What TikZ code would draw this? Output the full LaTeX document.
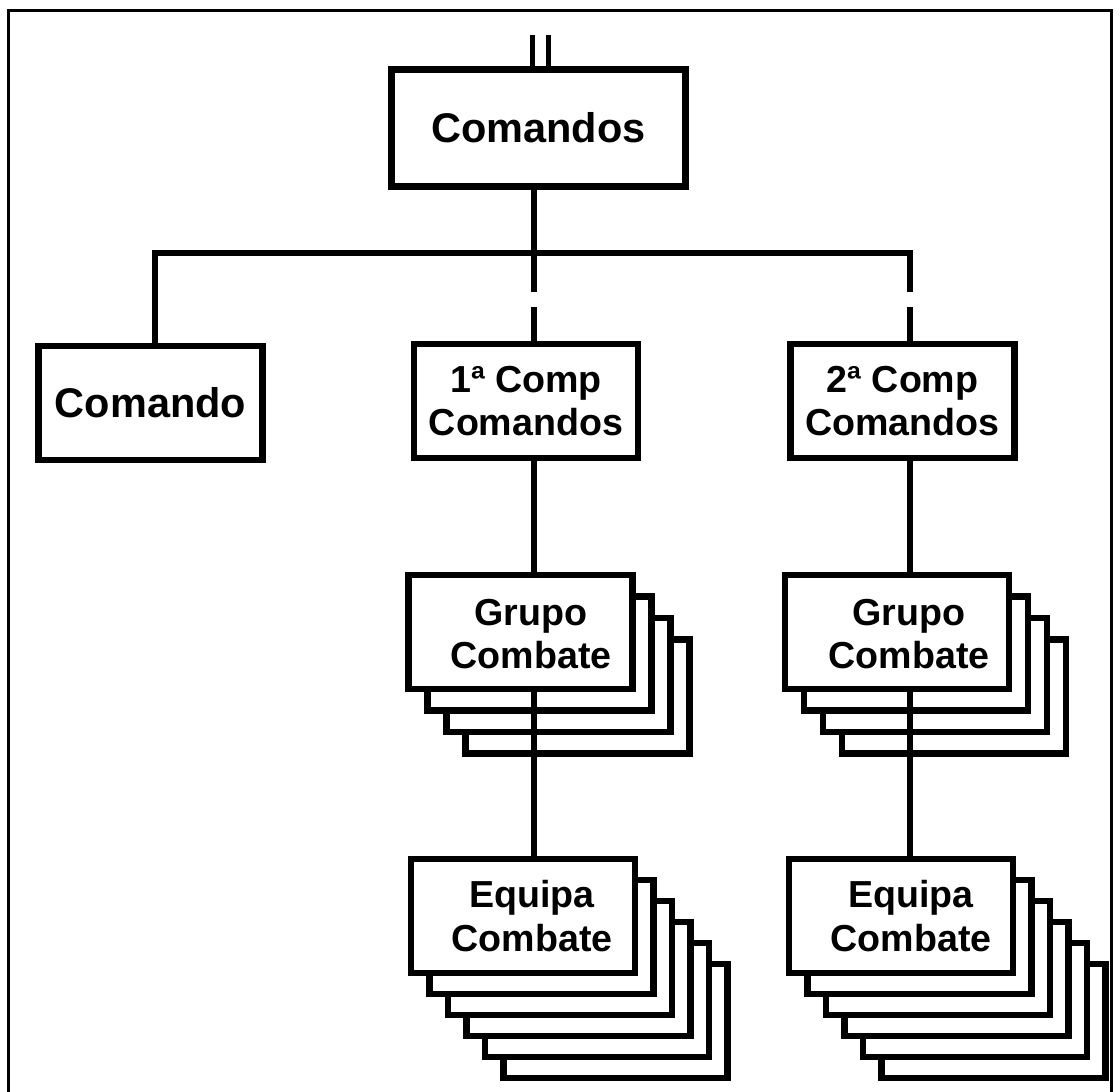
\documentclass[tikz,border=0pt]{standalone}
\usepackage{fontspec}
\setmainfont{Liberation Sans}
\begin{document}
\begin{tikzpicture}[x=0.1mm, y=-0.1mm, line width=0.65mm,
      box/.style={draw, fill=white, inner sep=0pt, minimum width=22.4mm, minimum height=11.4mm,
        align=center, font=\bfseries\fontsize{10.7}{12.3}\selectfont},
      txt/.style={inner sep=0pt, align=center, font=\bfseries\fontsize{10.7}{12.3}\selectfont},
      big/.style={font=\bfseries\fontsize{11.8}{13}\selectfont},
      link/.style={line width=0.6mm},
      gap/.style={link, dash pattern=on 3.9mm off 1.5mm on 6mm}]
      \useasboundingbox (0,0) rectangle (1120,1091);
      \draw[line width=0.28mm] (8.5,1100) -- (8.5,10.5) -- (1111.5,10.5) -- (1111.5,1100);
      \node[box, big, minimum width=29.4mm, minimum height=11.7mm] (cmds) at (538.5,128) {Comandos};
      \node[box, big] (cmd) at (150.5,403) {Comando};
      \node[box] (cp1) at (526,401) {1ª Comp\\Comandos};
      \node[box] (cp2) at (902.5,401) {2ª Comp\\Comandos};
      \foreach \i in {3,2,1} {
         \node[box] (gc1\i) at (520.5+19*\i, 632+21.5*\i) {};
         \node[box] (gc2\i) at (897+19*\i, 632+21.5*\i) {};
      }
      \node[box] (gc1) at (520.5,632) {};
      \node[txt] (gc1t) at (531,634) {Grupo\\Combate};
      \node[box] (gc2) at (897,632) {};
      \node[txt] (gc2t) at (909,634) {Grupo\\Combate};
      \foreach \i in {5,4,3,2,1} {
         \node[box] (ec1\i) at (523+18.5*\i, 916+21*\i) {};
         \node[box] (ec2\i) at (901+18.5*\i, 916+21*\i) {};
      }
      \node[box] (ec1) at (523,916) {};
      \node[txt] (ec1t) at (532,916) {Equipa\\Combate};
      \node[box] (ec2) at (901,916) {};
      \node[txt] (ec2t) at (911,916) {Equipa\\Combate};
      \coordinate (inA) at (532,35);
      \coordinate (inB) at (548,35);
      \draw[line width=0.5mm] (inA) -- (inA |- cmds.north);
      \draw[line width=0.5mm] (inB) -- (inB |- cmds.north);
      \coordinate (jL) at (155,253);
      \coordinate (jM) at (534,253);
      \coordinate (jR) at (910,253);
      \draw[link] (cmds.south -| jM) -- (jM);
      \draw[link, line cap=rect] (cmd.north -| jL) |- (jR);
      \draw[gap] (jM) -- (jM |- cp1.north);
      \draw[gap] (jR) -- (jR |- cp2.north);
      \draw[link] (cp1.south -| jM) -- (gc1.north -| jM);
      \draw[link] (gc1.south -| jM) -- (ec1.north -| jM);
      \draw[link] (cp2.south -| jR) -- (gc2.north -| jR);
      \draw[link] (gc2.south -| jR) -- (ec2.north -| jR);
   \end{tikzpicture}
\end{document}
